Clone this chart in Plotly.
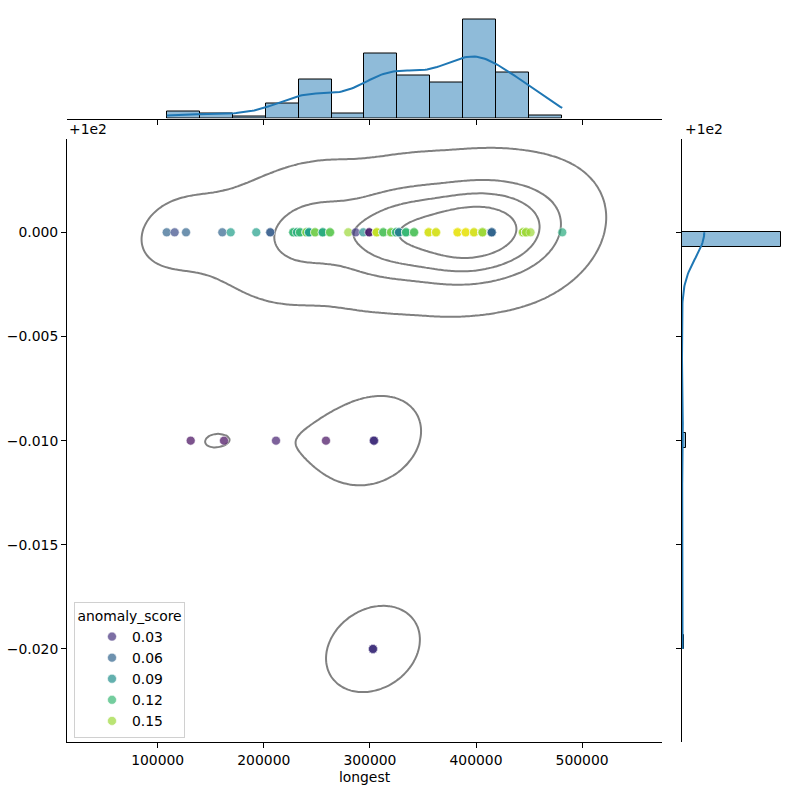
import numpy as np
import plotly.graph_objects as go
from plotly.colors import sample_colorscale

# ---------------- data (distinct observations, with repeat counts) ----------------
pt_longest = [108500, 116000, 126700, 160900, 168800, 192900, 206100, 227800, 231300,
              234100, 240100, 242600, 248300, 255500, 262400, 279600, 286600, 293800,
              299400, 306400, 312600, 319900, 324600, 327400, 334000, 341600, 355400,
              362300, 382600, 390300, 398100, 406100, 414800, 444300, 447100, 451400,
              481300,
              131100, 162500, 211500, 258600, 303800,
              302900]
pt_value = [100.0] * 37 + [99.99] * 5 + [99.98]
pt_score = [0.06, 0.045, 0.06, 0.06, 0.10, 0.10, 0.055, 0.12, 0.11,
            0.12, 0.14, 0.10, 0.14, 0.11, 0.135, 0.15, 0.035, 0.09,
            0.015, 0.16, 0.13, 0.14, 0.12, 0.08, 0.12, 0.13, 0.165,
            0.165, 0.17, 0.17, 0.165, 0.15, 0.06, 0.15, 0.15, 0.15,
            0.11,
            0.01, 0.01, 0.02, 0.012, 0.03,
            0.032]
pt_count = [1, 1, 1, 1, 1, 1, 2, 3, 3,
            3, 4, 4, 3, 4, 4, 1, 1, 1,
            2, 6, 7, 6, 7, 4, 6, 6, 9,
            10, 11, 15, 16, 15, 12, 14, 13, 1,
            1,
            1, 1, 1, 1, 5,
            5]

legend_scores = [0.03, 0.06, 0.09, 0.12, 0.15]
x_ticks = [100000, 200000, 300000, 400000, 500000]
y_ticks = [0.0, -0.005, -0.01, -0.015, -0.02]

OFFSET = 100.0
SCORE_MIN, SCORE_MAX = 0.005, 0.175

# ---------------- expanded data ----------------
x = np.repeat(np.array(pt_longest, float), pt_count)
y = np.repeat(np.array(pt_value) - OFFSET, pt_count)
s = np.repeat(np.array(pt_score), pt_count)
n = len(x)

# ---------------- 2D KDE (scott) ----------------
YS = 1e7  # rescale y for numerical conditioning
data = np.vstack([x, y * YS])
cov = np.cov(data)
factor = n ** (-1 / 6)
kcov = cov * factor ** 2
bw = np.sqrt(np.diag(kcov))
gx = np.linspace(x.min() - 3 * bw[0], x.max() + 3 * bw[0], 200)
gy = np.linspace(y.min() * YS - 3 * bw[1], y.max() * YS + 3 * bw[1], 200)
XX, YY = np.meshgrid(gx, gy)
inv = np.linalg.inv(kcov)
ux = np.array(pt_longest, float)
uy = (np.array(pt_value) - OFFSET) * YS
wts = np.array(pt_count, float)
dx = XX[..., None] - ux
dy = YY[..., None] - uy
q = inv[0, 0] * dx * dx + 2 * inv[0, 1] * dx * dy + inv[1, 1] * dy * dy
dens = (wts * np.exp(-0.5 * q)).sum(-1) / (n * 2 * np.pi * np.sqrt(np.linalg.det(kcov)))

iso = np.linspace(0.05, 1, 5)
vals = np.sort(dens.ravel())[::-1]
cum = np.cumsum(vals) / vals.sum()
levels = np.take(vals, np.searchsorted(cum, 1 - iso), mode="clip")[:-1]

# ---------------- marginal histograms + KDE ----------------
cx, ex = np.histogram(x, bins=12)
bwx = ex[1] - ex[0]
cy, ey = np.histogram(y, bins=29)
bwy = ey[1] - ey[0]


def kde1d(v, grid):
    h = v.std(ddof=1) * len(v) ** (-0.2)
    d = np.exp(-0.5 * ((grid[:, None] - v[None, :]) / h) ** 2).sum(1)
    return d / (len(v) * h * np.sqrt(2 * np.pi))


kxg = np.linspace(x.min(), x.max(), 200)
kxl = kde1d(x, kxg) * n * bwx
kyg = np.linspace(y.min(), y.max(), 200)
kyl = kde1d(y, kyg) * n * bwy

# ---------------- figure ----------------
fig = go.Figure()
FONT = "DejaVu Sans"
FS = 13.9
HIST_FILL = "rgba(31,119,180,0.5)"
KDE_COLOR = "#1f77b4"

fig.add_trace(go.Scatter(
    x=x, y=y, mode="markers", showlegend=False, hoverinfo="skip",
    marker=dict(color=s, colorscale="Viridis", cmin=SCORE_MIN, cmax=SCORE_MAX,
                size=9, opacity=0.7, line=dict(color="white", width=0.6)),
    xaxis="x", yaxis="y"))

for L in levels:
    fig.add_trace(go.Contour(
        x=gx, y=gy / YS, z=dens, autocontour=False,
        contours=dict(start=L, end=L, size=max(L, 1e-300), coloring="none"),
        line=dict(color="gray", width=2), showscale=False, hoverinfo="skip",
        showlegend=False, xaxis="x", yaxis="y"))

# legend entries
for i, v in enumerate(legend_scores):
    c = sample_colorscale("Viridis", [(v - SCORE_MIN) / (SCORE_MAX - SCORE_MIN)])[0]
    fig.add_trace(go.Scatter(
        x=[None], y=[None], mode="markers", name=f"{v:.2f}",
        marker=dict(color=c, size=9, opacity=0.7, line=dict(color="white", width=0.6)),
        xaxis="x", yaxis="y"))

# top marginal
fig.add_trace(go.Bar(
    x=(ex[:-1] + ex[1:]) / 2, y=cx, width=bwx, showlegend=False, hoverinfo="skip",
    marker=dict(color=HIST_FILL, line=dict(color="black", width=1)),
    xaxis="x2", yaxis="y2"))
fig.add_trace(go.Scatter(
    x=kxg, y=kxl, mode="lines", line=dict(color=KDE_COLOR, width=2),
    showlegend=False, hoverinfo="skip", xaxis="x2", yaxis="y2"))

# right marginal
fig.add_trace(go.Bar(
    y=(ey[:-1] + ey[1:]) / 2, x=cy, width=bwy, orientation="h", showlegend=False,
    hoverinfo="skip", marker=dict(color=HIST_FILL, line=dict(color="black", width=1)),
    xaxis="x3", yaxis="y3"))
fig.add_trace(go.Scatter(
    x=kyl, y=kyg, mode="lines", line=dict(color=KDE_COLOR, width=2),
    showlegend=False, hoverinfo="skip", xaxis="x3", yaxis="y3"))

W = H = 800.0
main_x = [67 / W, 662 / W]
main_y = [1 - 742.3 / H, 1 - 139 / H]
top_y = [1 - 118.5 / H, 1 - 14.5 / H]
right_x = [682 / W, 786 / W]

axis_common = dict(showgrid=False, zeroline=False, linecolor="black", linewidth=1,
                   ticks="outside", ticklen=5, tickwidth=1, tickcolor="black",
                   tickfont=dict(family=FONT, size=FS, color="black"))

fig.update_layout(
    width=800, height=800, margin=dict(l=0, r=0, t=0, b=0),
    paper_bgcolor="white", plot_bgcolor="white",
    font=dict(family=FONT, size=FS, color="black"),
    bargap=0,
    xaxis=dict(domain=main_x, anchor="y", range=[14520, 575300],
               tickvals=x_ticks, ticktext=[str(t) for t in x_ticks], showline=True,
               title=dict(text="longest", font=dict(family=FONT, size=FS), standoff=5),
               **axis_common),
    yaxis=dict(domain=main_y, anchor="x", range=[-0.02448, 0.00448],
               tickvals=y_ticks, tickformat=".3f", showline=True, **axis_common),
    xaxis2=dict(domain=main_x, anchor="y2", matches="x", tickvals=x_ticks,
                showticklabels=False, showline=True, **axis_common),
    yaxis2=dict(domain=top_y, anchor="x2", range=[0, cx.max() * 1.05], visible=False),
    xaxis3=dict(domain=right_x, anchor="y3", range=[0, cy.max() * 1.05], visible=False),
    yaxis3=dict(domain=main_y, anchor="x3", matches="y", tickvals=y_ticks,
                showticklabels=False, showline=True, **axis_common),
    legend=dict(x=74 / W, y=1 - 738 / H, xanchor="left", yanchor="bottom",
                bordercolor="#d0d0d0", borderwidth=1, bgcolor="rgba(255,255,255,0.8)",
                font=dict(family=FONT, size=FS), itemwidth=30, indentation=17,
                title=dict(text="anomaly_score", side="top center",
                           font=dict(family=FONT, size=FS))),
    annotations=[
        dict(text="+1e2", x=67 / W, y=1 - 129 / H, xref="paper", yref="paper",
             xanchor="left", yanchor="middle", showarrow=False,
             font=dict(family=FONT, size=FS)),
        dict(text="+1e2", x=683 / W, y=1 - 129 / H, xref="paper", yref="paper",
             xanchor="left", yanchor="middle", showarrow=False,
             font=dict(family=FONT, size=FS)),
    ],
)

fig.write_html("out.html")
